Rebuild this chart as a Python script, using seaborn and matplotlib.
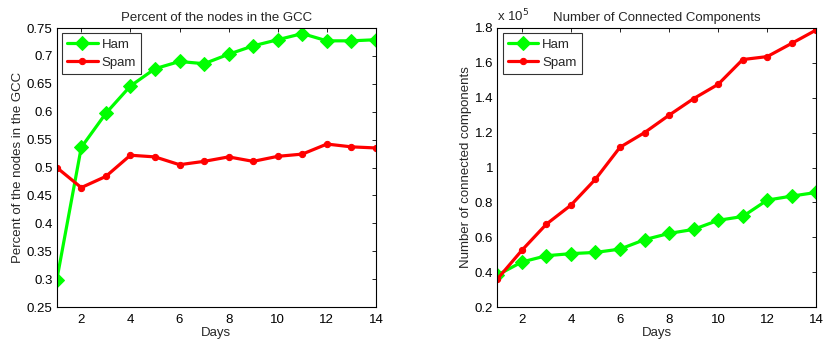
import numpy as np
import pandas as pd
import matplotlib
matplotlib.use("Agg")
import matplotlib.pyplot as plt
import seaborn as sns

days = list(range(1, 15))
gcc_ham = [0.298, 0.536, 0.597, 0.646, 0.677, 0.690, 0.686, 0.703, 0.718, 0.729, 0.740, 0.727, 0.727, 0.729]
gcc_spam = [0.500, 0.464, 0.484, 0.522, 0.519, 0.505, 0.511, 0.519, 0.511, 0.520, 0.524, 0.542, 0.537, 0.535]
cc_ham = [0.383e5, 0.458e5, 0.494e5, 0.506e5, 0.513e5, 0.532e5, 0.586e5, 0.622e5, 0.645e5, 0.697e5, 0.719e5, 0.813e5, 0.836e5, 0.857e5]
cc_spam = [0.360e5, 0.525e5, 0.675e5, 0.784e5, 0.933e5, 1.116e5, 1.200e5, 1.300e5, 1.395e5, 1.477e5, 1.619e5, 1.636e5, 1.712e5, 1.789e5]
x_ticks = [2, 4, 6, 8, 10, 12, 14]

sns.set_style("white")
plt.rcParams['font.family'] = ['Liberation Sans', 'DejaVu Sans']
FS = 9.5
plt.rcParams['font.size'] = FS

fig = plt.figure(figsize=(8.25, 3.41), dpi=100)
W, H = 825, 341
ax1 = fig.add_axes([56.7 / W, 1 - 307 / H, (376 - 56.7) / W, (307 - 28) / H])
ax2 = fig.add_axes([497.3 / W, 1 - 307 / H, (816.3 - 497.3) / W, (307 - 28) / H])

def draw(ax, ham, spam):
    df = pd.DataFrame({"Days": days * 2, "v": ham + spam,
                       "s": ["Ham"] * len(days) + ["Spam"] * len(days)})
    sns.lineplot(data=df[df.s == "Ham"], x="Days", y="v", ax=ax, color="#00ff00",
                 lw=2.3, marker="D", markersize=7, markeredgecolor="#00ff00", label="Ham")
    sns.lineplot(data=df[df.s == "Spam"], x="Days", y="v", ax=ax, color="#ff0000",
                 lw=2.3, marker="o", markersize=4.5, markeredgecolor="#ff0000", label="Spam")
    ax.set_xlim(1, 14)
    ax.set_xticks(x_ticks)
    ax.tick_params(direction="in", top=True, right=True, length=3, width=0.6,
                   labelsize=FS, colors="black", pad=3)
    ax.tick_params(axis="x", pad=5)
    for sp in ax.spines.values():
        sp.set_color("black")
        sp.set_linewidth(0.8)
    ax.set_xlabel("Days", fontsize=FS, labelpad=1)
    leg = ax.legend(loc="upper left", frameon=True, fancybox=False, fontsize=FS,
                    handlelength=2.3, borderaxespad=0.4, labelspacing=0.45,
                    handletextpad=0.3, borderpad=0.4)
    leg.get_frame().set_edgecolor("black")
    leg.get_frame().set_linewidth(0.8)

draw(ax1, gcc_ham, gcc_spam)
ax1.set_ylim(0.25, 0.75)
ax1.set_yticks(np.arange(0.25, 0.751, 0.05))
ax1.set_yticklabels(["0.25", "0.3", "0.35", "0.4", "0.45", "0.5", "0.55", "0.6", "0.65", "0.7", "0.75"])
ax1.set_ylabel("Percent of the nodes in the GCC", fontsize=FS, labelpad=2)
ax1.set_title("Percent of the nodes in the GCC", fontsize=FS, pad=5)

draw(ax2, cc_ham, cc_spam)
ax2.set_ylim(0.2e5, 1.8e5)
yt = np.arange(0.2e5, 1.81e5, 0.2e5)
ax2.set_yticks(yt)
ax2.set_yticklabels(["0.2", "0.4", "0.6", "0.8", "1", "1.2", "1.4", "1.6", "1.8"])
ax2.set_ylabel("Number of connected components", fontsize=FS, labelpad=2)
ax2.set_title("Number of Connected Components", fontsize=FS, pad=5)
ax2.text(0.0, 1.015, r"x 10$^{5}$", transform=ax2.transAxes, fontsize=FS, ha="left", va="bottom")

fig.savefig("out.png", dpi=100)
